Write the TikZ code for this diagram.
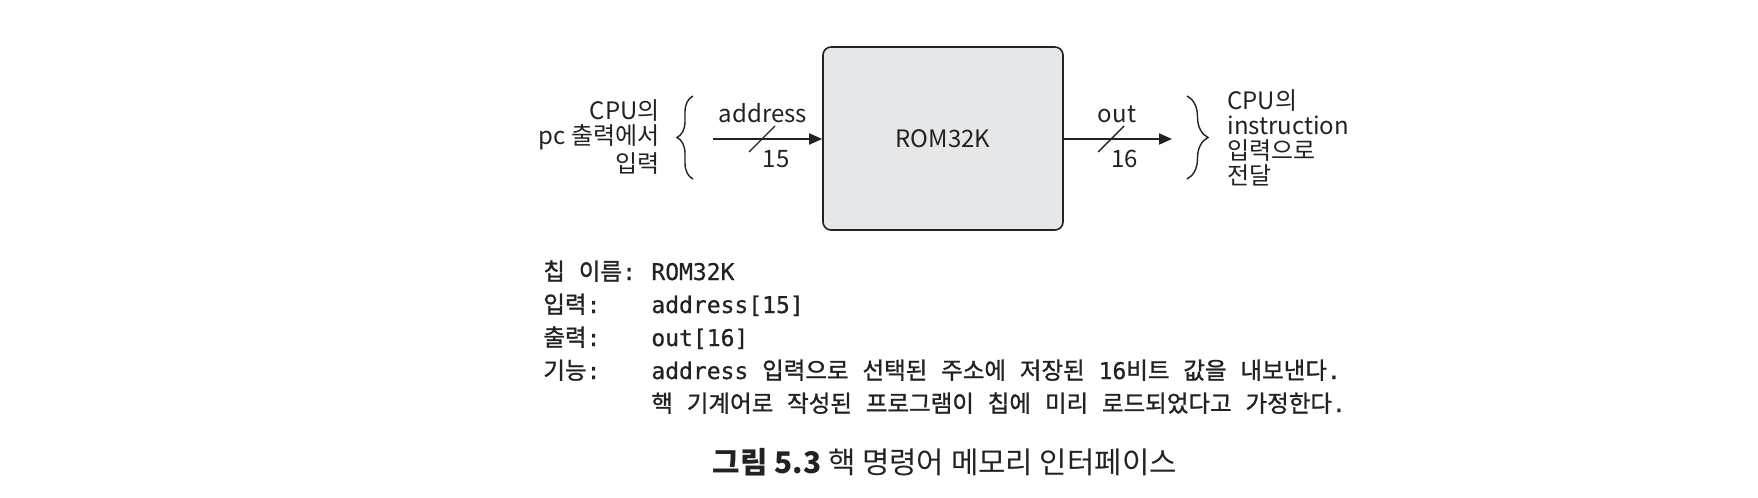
\documentclass[tikz,border=0pt]{standalone}
\usepackage{fontspec}
\setmainfont{Noto Sans CJK KR}
\newfontfamily\speckr[FakeBold=1.2]{Noto Sans CJK KR}
\newfontfamily\codefont[FakeBold=0.6]{DejaVu Sans Mono}
\usetikzlibrary{arrows.meta,decorations.pathreplacing}
\newcommand\K[1]{{\speckr\fontsize{11.75}{13}\selectfont #1}}
\definecolor{boxfill}{HTML}{E6E7E9}
\definecolor{ink}{HTML}{222222}
\tikzset{
  chip/.style={draw=ink, line width=0.8pt, fill=boxfill, rounded corners=4pt,
    minimum width=120pt, minimum height=91.5pt, inner sep=0pt,
    font=\fontsize{12}{14}\selectfont, text=ink},
  bus/.style={draw=ink, line width=0.9pt, -{Triangle[length=6.5pt,width=5.5pt]}},
  slash/.style={draw=ink, line width=0.7pt},
  lbl/.style={font=\fontsize{12}{12.5}\selectfont, text=ink, inner sep=0pt},
  curly/.style={draw=ink, line width=0.7pt, decorate},
  spec/.style={font=\codefont\fontsize{11.5}{13}\selectfont, text=ink, inner sep=0pt, anchor=base west},
  captext/.style={font=\fontsize{14.9}{16}\selectfont, text=ink, inner sep=0pt, anchor=base}
}
\begin{document}
\begin{tikzpicture}[x=0.5pt, y=-0.5pt]
\useasboundingbox (0,0) rectangle (1758,498);
% chip
\node[chip] (rom) at (943,138.5) {ROM32K};
% input
\coordinate (ain) at (713,139);
\draw[bus] (ain) -- (rom.west |- ain);
\draw[slash] (749,152) -- (775,126);
\node[lbl, anchor=base] (addr) at (763,122) {address};
\node[lbl, anchor=base] (n15) at (776,167) {15};
% output
\coordinate (aout) at (1172,139);
\draw[bus] (rom.east |- aout) -- (aout);
\draw[slash] (1098,152) -- (1124,126);
\node[lbl, anchor=base] (outl) at (1117,122) {out};
\node[lbl, anchor=base] (n16) at (1124.5,167) {16};
% braces
\draw[curly, decoration={brace, amplitude=8pt}] (693,179) -- (693,96);
\draw[curly, decoration={brace, amplitude=10.5pt}] (1187,96) -- (1187,179);
% side texts
\node[lbl, anchor=east, align=right] (src) at (660,137) {CPU의\\pc 출력에서\\입력};
\node[lbl, anchor=west, align=left] (dst) at (1227,138) {CPU의\\instruction\\입력으로\\전달};
% spec
\node[spec] (s1) at (543,280) {\K{칩} \K{이름}:};
\node[spec] (v1) at (651,280) {ROM32K};
\node[spec] (s2) at (543,313) {\K{입력}:};
\node[spec] (v2) at (651,313) {address[15]};
\node[spec] (s3) at (543,346) {\K{출력}:};
\node[spec] (v3) at (651,346) {out[16]};
\node[spec] (s4) at (543,379) {\K{기능}:};
\node[spec] (v4) at (651,379) {address \K{입력으로} \K{선택된} \K{주소에} \K{저장된} 16\K{비트} \K{값을} \K{내보낸다}.};
\node[spec] (v5) at (651,412) {\K{핵} \K{기계어로} \K{작성된} \K{프로그램이} \K{칩에} \K{미리} \K{로드되었다고} \K{가정한다}.};
% caption
\node[captext] (caption) at (945,473) {\textbf{그림 5.3} 핵 명령어 메모리 인터페이스};
\end{tikzpicture}
\end{document}
